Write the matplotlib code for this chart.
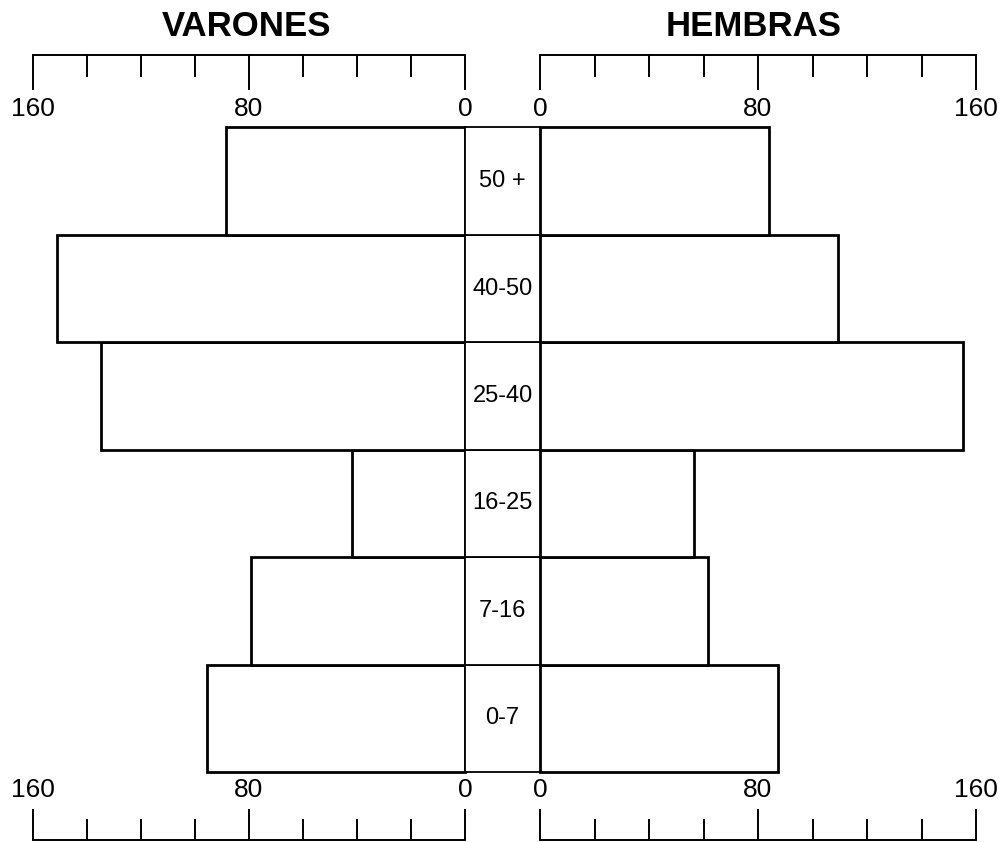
import matplotlib
matplotlib.use("Agg")
import matplotlib.pyplot as plt
from matplotlib.ticker import MultipleLocator

plt.rcParams['font.family'] = ['Liberation Sans', 'DejaVu Sans']

# age groups, bottom to top
age_groups = ['0-7', '7-16', '16-25', '25-40', '40-50', '50 +']
varones = [95.7, 79.4, 41.9, 134.8, 151, 88.5]
hembras = [87.3, 61.7, 56.5, 155.2, 109.4, 84]
major_ticks = [0, 80, 160]

W, H = 1000, 842
fig = plt.figure(figsize=(W / 100, H / 100), dpi=100)

def box(x0, y0, x1, y1):
    # pixel box (top-left origin) -> figure fraction rect
    return [x0 / W, 1 - y1 / H, (x1 - x0) / W, (y1 - y0) / H]

rows_top, rows_bot = 127.5, 772
left_x0, left_x1 = 33, 465
right_x0, right_x1 = 540, 976

ypos = list(range(len(age_groups)))

# bars
ax_l = fig.add_axes(box(left_x0, rows_top, left_x1, rows_bot))
ax_l.barh(ypos, varones, height=1.0, color='white', edgecolor='black',
          linewidth=2.0, clip_on=False)
ax_l.set_xlim(160, 0)

ax_r = fig.add_axes(box(right_x0, rows_top, right_x1, rows_bot))
ax_r.barh(ypos, hembras, height=1.0, color='white', edgecolor='black',
          linewidth=2.0, clip_on=False)
ax_r.set_xlim(0, 160)

# centre column with the age labels
ax_c = fig.add_axes(box(left_x1, rows_top, right_x0, rows_bot))
ax_c.barh(ypos, [1] * len(ypos), height=1.0, color='white', edgecolor='black',
          linewidth=1.3, clip_on=False)
ax_c.set_xlim(0, 1)
for y, lab in zip(ypos, age_groups):
    ax_c.text(0.5, y, lab, ha='center', va='center', fontsize=17)

for ax in (ax_l, ax_r, ax_c):
    ax.set_ylim(-0.5, len(age_groups) - 0.5)
    ax.axis('off')

# scales
def scale_axis(rect, xlim, top):
    ax = fig.add_axes(rect)
    ax.set_xlim(*xlim)
    ax.set_ylim(0, 1)
    ax.set_yticks([])
    for s in ax.spines.values():
        s.set_visible(False)
    side = 'top' if top else 'bottom'
    ax.spines[side].set_visible(True)
    ax.spines[side].set_linewidth(1.4)
    ax.xaxis.set_major_locator(plt.FixedLocator(major_ticks))
    ax.xaxis.set_minor_locator(MultipleLocator(20))
    ax.set_xticklabels([str(t) for t in major_ticks])
    ax.tick_params(axis='x', which='both', direction='in', width=1.4,
                   top=top, bottom=not top,
                   labeltop=not top, labelbottom=top, labelsize=19, pad=5)
    ax.tick_params(axis='x', which='major', length=25 if top else 22.5)
    ax.tick_params(axis='x', which='minor', length=16 if top else 15)
    ax.patch.set_visible(False)
    return ax

scale_axis(box(left_x0, 55, left_x1, 90), (160, 0), True)
scale_axis(box(right_x0, 55, right_x1, 90), (0, 160), True)
scale_axis(box(left_x0, 809, left_x1, 840), (160, 0), False)
scale_axis(box(right_x0, 809, right_x1, 840), (0, 160), False)

fig.text(247 / W, 1 - 27 / H, 'VARONES', ha='center', va='center',
         fontsize=25, fontweight='bold')
fig.text(754 / W, 1 - 27 / H, 'HEMBRAS', ha='center', va='center',
         fontsize=25, fontweight='bold')

fig.savefig('out.png', dpi=100, facecolor='white')
